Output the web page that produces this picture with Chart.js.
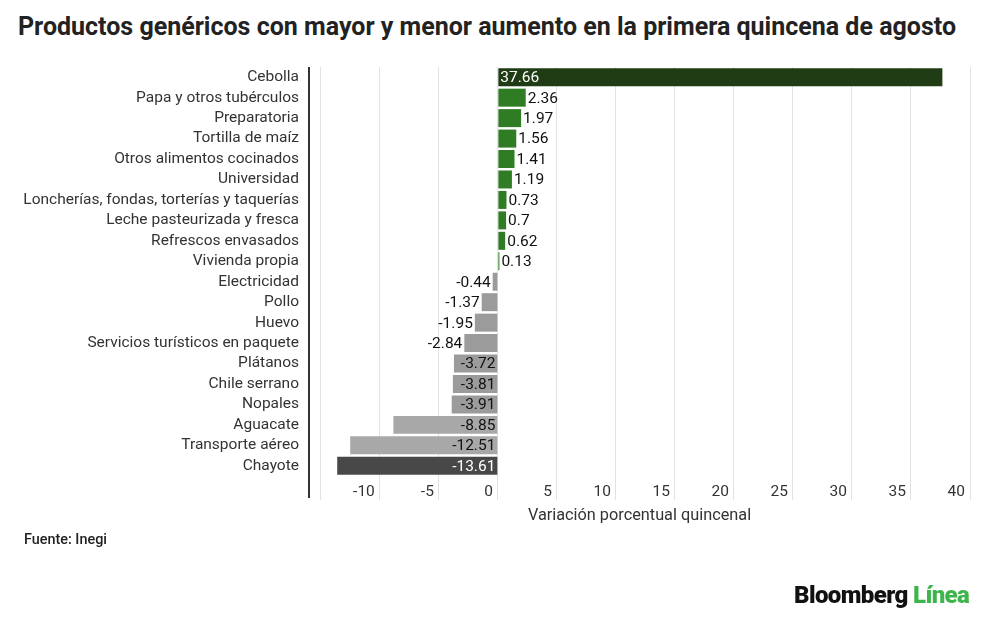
<!DOCTYPE html>
<html>
<head>
<meta charset="utf-8">
<script src="https://cdn.jsdelivr.net/npm/chart.js@4"></script>
<style>
  html, body { margin: 0; padding: 0; background: #fff; }
  #wrap { position: relative; width: 1000px; height: 624px; font-family: Roboto, sans-serif; }
  #chart { position: absolute; left: 0; top: 0; }
  .title { position: absolute; left: 18px; top: 12px; font-size: 25px; font-weight: 700; color: #222; white-space: nowrap; }
  .source { position: absolute; left: 24px; top: 531px; font-size: 14.4px; font-weight: 500; color: #222; }
  .logo { position: absolute; left: 794px; top: 581px; font-size: 24px; font-weight: 900; letter-spacing: -0.6px; color: #111; }
  .logo span { color: #3db54a; }
</style>
</head>
<body>
<div id="wrap">
  <div class="title">Productos genéricos con mayor y menor aumento en la primera quincena de agosto</div>
  <canvas id="chart" width="1000" height="624"></canvas>
  <div class="source">Fuente: Inegi</div>
  <div class="logo">Bloomberg <span>Línea</span></div>
</div>
<script>
const CATEGORIES = [
  'Cebolla',
  'Papa y otros tubérculos',
  'Preparatoria',
  'Tortilla de maíz',
  'Otros alimentos cocinados',
  'Universidad',
  'Loncherías, fondas, torterías y taquerías',
  'Leche pasteurizada y fresca',
  'Refrescos envasados',
  'Vivienda propia',
  'Electricidad',
  'Pollo',
  'Huevo',
  'Servicios turísticos en paquete',
  'Plátanos',
  'Chile serrano',
  'Nopales',
  'Aguacate',
  'Transporte aéreo',
  'Chayote'
];

const VALUES = [37.66, 2.36, 1.97, 1.56, 1.41, 1.19, 0.73, 0.7, 0.62, 0.13,
  -0.44, -1.37, -1.95, -2.84, -3.72, -3.81, -3.91, -8.85, -12.51, -13.61];

const X_TICKS = [-15, -10, -5, 0, 5, 10, 15, 20, 25, 30, 35, 40];
const X_TICK_LABELS = ['', '-10', '-5', '0', '5', '10', '15', '20', '25', '30', '35', '40'];

const AXIS_TITLE = 'Variación porcentual quincenal';

// colours per bar, same order as CATEGORIES
const BAR_COLORS = VALUES.map(function(v, i) {
  if (i === 0) return '#1f3c14';
  if (i === VALUES.length - 1) return '#484848';
  if (i === 17 || i === 18) return '#a8a8a8';
  return v >= 0 ? '#2f7c24' : '#9b9b9b';
});
const DARK_BARS = ['#1f3c14', '#484848'];

const barLabels = {
  id: 'barLabels',
  afterDatasetsDraw(chart) {
    const ctx = chart.ctx;
    const meta = chart.getDatasetMeta(0);
    ctx.save();
    ctx.font = '15.5px Roboto';
    ctx.textBaseline = 'middle';
    meta.data.forEach(function(bar, i) {
      const v = VALUES[i];
      const txt = String(v);
      const w = ctx.measureText(txt).width;
      const len = Math.abs(bar.x - bar.base);
      const inside = w + 6 <= len;
      let x, align, color = '#111';
      if (inside) {
        color = DARK_BARS.indexOf(BAR_COLORS[i]) >= 0 ? '#fff' : '#111';
        if (v >= 0) { x = bar.base + 2; align = 'left'; }
        else { x = bar.base - 2; align = 'right'; }
      } else {
        if (v >= 0) { x = bar.x + 2; align = 'left'; }
        else { x = bar.x - 2; align = 'right'; }
      }
      ctx.fillStyle = color;
      ctx.textAlign = align;
      ctx.fillText(txt, x, bar.y + 1);
    });
    ctx.restore();
  },
  afterDraw(chart) {
    // dark vertical axis line, running down into the tick area
    const ctx = chart.ctx;
    const a = chart.chartArea;
    ctx.save();
    ctx.strokeStyle = '#333';
    ctx.lineWidth = 2;
    ctx.beginPath();
    ctx.moveTo(a.left, a.top);
    ctx.lineTo(a.left, a.bottom + 22);
    ctx.stroke();
    ctx.restore();
  }
};

window.onload = function() {
  const ctx = document.getElementById('chart');

  new Chart(ctx, {
    type: 'bar',
    data: {
      labels: CATEGORIES,
      datasets: [{
        data: VALUES,
        backgroundColor: BAR_COLORS,
        borderWidth: 0,
        categoryPercentage: 0.88,
        barPercentage: 1
      }]
    },
    options: {
      indexAxis: 'y',
      responsive: false,
      animation: false,
      layout: { padding: { left: 0, right: 30, top: 67, bottom: 94 } },
      plugins: {
        legend: { display: false },
        tooltip: { enabled: false }
      },
      scales: {
        x: {
          min: -16,
          max: 40,
          afterBuildTicks: function(scale) {
            scale.ticks = X_TICKS.map(function(v) { return { value: v }; });
          },
          afterFit: function(scale) { scale.height = 54; },
          ticks: {
            align: 'end',
            labelOffset: -5,
            padding: -17,
            color: '#333',
            font: { family: 'Roboto', size: 15.5 },
            callback: function(value) {
              return X_TICK_LABELS[X_TICKS.indexOf(value)];
            }
          },
          grid: { color: '#e2e2e2', lineWidth: 1, tickLength: 24 },
          border: { display: false },
          title: {
            display: true,
            text: AXIS_TITLE,
            color: '#333',
            font: { family: 'Roboto', size: 16.3 }
          }
        },
        y: {
          afterFit: function(scale) { scale.width = 309; },
          ticks: {
            autoSkip: false,
            padding: 10,
            color: '#333',
            font: { family: 'Roboto', size: 15.5 }
          },
          grid: { display: false, drawTicks: false },
          border: { display: false }
        }
      }
    },
    plugins: [barLabels]
  });
};
</script>
</body>
</html>
